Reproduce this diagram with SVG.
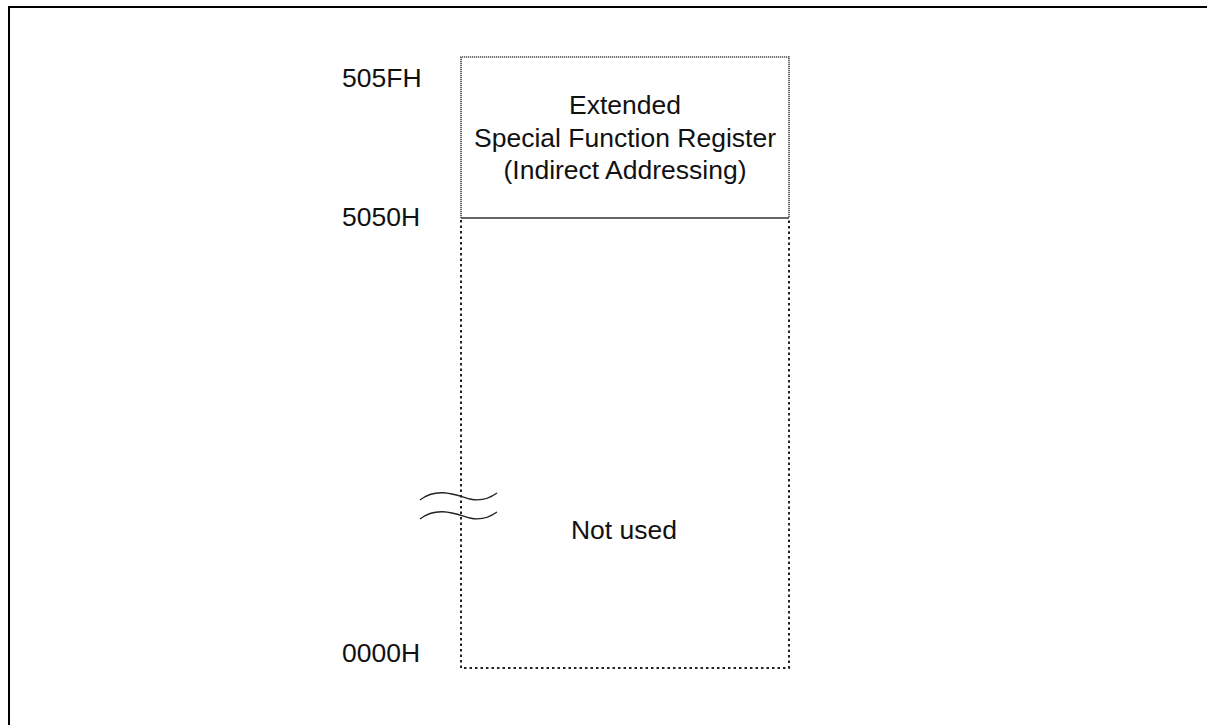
<svg xmlns="http://www.w3.org/2000/svg" width="1207" height="725" viewBox="0 0 1207 725">
<style>
.t{font-family:"Liberation Sans",Arial,sans-serif;font-size:26.5px;fill:#111}
.c{text-anchor:middle}
.fine{fill:none;stroke:#444;stroke-width:1.6;stroke-dasharray:1.2,0.8}
.dot{fill:none;stroke:#222;stroke-width:2;stroke-dasharray:2.5,3}
.wave{fill:none;stroke:#222;stroke-width:1.3}
</style>
<rect width="1207" height="725" fill="#fff"/>
<g id="frame"><path d="M9,725 V7 H1207" fill="none" stroke="#000" stroke-width="2"/></g>
<g id="sfr">
<path class="fine" d="M461,218 V57 H789 V218"/>
<line x1="461" y1="218" x2="789" y2="218" stroke="#333" stroke-width="1.6"/>
<text class="t c" x="625" y="114">Extended</text>
<text class="t c" x="625" y="147">Special Function Register</text>
<text class="t c" x="625" y="179">(Indirect Addressing)</text>
</g>
<g id="notused">
<path class="dot" d="M461,220 V668 H789 V220"/>
<text class="t c" x="624" y="539">Not used</text>
</g>
<g id="labels">
<text class="t" x="342" y="87">505FH</text>
<text class="t" x="342" y="225.5">5050H</text>
<text class="t" x="342" y="661.5">0000H</text>
</g>
<g id="break">
<path class="wave" d="M420,500 C438,486 458,496 470,499 C482,502 490,498 497,493"/>
<path class="wave" d="M420,519 C438,505 458,515 470,518 C482,521 490,517 497,512"/>
</g>
</svg>
